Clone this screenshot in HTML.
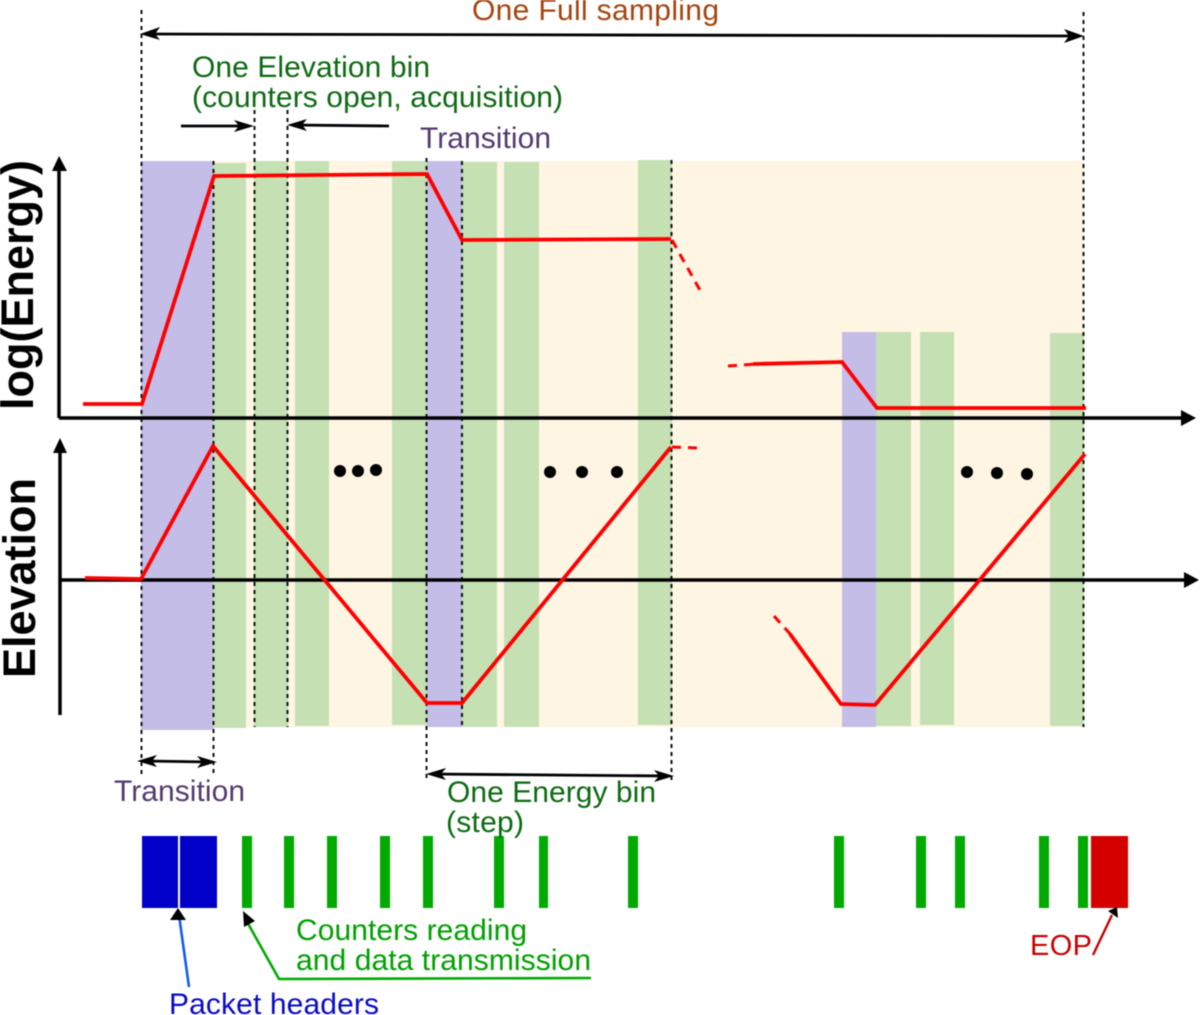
<!DOCTYPE html>
<html>
<head>
<meta charset="utf-8">
<style>
html,body{margin:0;padding:0;background:#fff;width:1200px;height:1015px;overflow:hidden}
svg{display:block;filter:blur(0.4px)}
text{font-family:"Liberation Sans",sans-serif}
</style>
</head>
<body>
<svg width="1200" height="1015" viewBox="0 0 1200 1015" xmlns="http://www.w3.org/2000/svg">
<!-- background bands -->
<rect x="141" y="161" width="943" height="566" fill="#fef5e3"/>
<g fill="#c3bde8">
<rect x="141" y="161" width="72" height="569"/>
<rect x="427" y="161" width="35" height="566"/>
<rect x="842" y="332" width="34" height="395"/>
</g>
<g fill="#c5e0b3">
<rect x="213" y="163" width="33" height="565"/>
<rect x="254" y="161" width="34" height="566"/>
<rect x="295" y="161" width="34" height="565"/>
<rect x="392" y="161" width="35" height="564"/>
<rect x="462" y="162" width="35" height="565"/>
<rect x="504" y="162" width="35" height="565"/>
<rect x="638" y="160" width="34" height="565"/>
<rect x="876" y="332" width="35" height="394"/>
<rect x="920" y="332" width="34" height="393"/>
<rect x="1050" y="333" width="34" height="393"/>
</g>
<!-- dotted guides -->
<g stroke="#111" stroke-width="2" stroke-dasharray="4 4" fill="none">
<line x1="141.500" y1="10" x2="141.500" y2="778"/>
<line x1="213.500" y1="161" x2="213.500" y2="776"/>
<line x1="254.500" y1="110" x2="254.500" y2="727"/>
<line x1="287.500" y1="110" x2="287.500" y2="727"/>
<line x1="426.500" y1="158" x2="426.500" y2="781"/>
<line x1="462" y1="161" x2="462" y2="727"/>
<line x1="671.500" y1="160" x2="671.500" y2="781"/>
<line x1="1083.500" y1="12" x2="1083.500" y2="727"/>
</g>
<!-- axes -->
<g stroke="#000" stroke-width="3.500" fill="none">
<line x1="59" y1="418" x2="1184" y2="418"/>
<line x1="59" y1="418" x2="59" y2="168"/>
<line x1="59" y1="580" x2="1186" y2="580"/>
<line x1="60" y1="715" x2="60" y2="450"/>
</g>
<g fill="#000">
<polygon points="1196,418 1181,410 1181,426"/>
<polygon points="1199,580 1184,572 1184,588"/>
<polygon points="59,156 52,171 67,171"/>
<polygon points="60,438 53,453 67,453"/>
</g>
<!-- red curves -->
<g stroke="#f00" stroke-width="3.800" fill="none" stroke-linejoin="miter">
<polyline points="83,404 142,404 214,176 427,174 462,240 671,239"/>
<polyline points="753,364 842,362 877,408 1086,408"/>
<polyline points="85,578 141,579 213,446 427,703 462,703 671,447"/>
<polyline points="790,634 841,704 875,705 1085,454"/>
</g>
<g stroke="#f00" stroke-width="3" fill="none" stroke-dasharray="9 7">
<line x1="672" y1="240" x2="701" y2="292"/>
<line x1="728" y1="366" x2="756" y2="364"/>
<line x1="672" y1="447" x2="698" y2="448"/>
<line x1="774" y1="616" x2="792" y2="636"/>
</g>
<!-- dots -->
<g fill="#000">
<circle cx="340" cy="471" r="6"/><circle cx="358" cy="471" r="6"/><circle cx="376" cy="470" r="6"/>
<circle cx="550" cy="472" r="6"/><circle cx="582" cy="472" r="6"/><circle cx="617" cy="472" r="6"/>
<circle cx="967" cy="472" r="6"/><circle cx="997" cy="473" r="6"/><circle cx="1027" cy="474" r="6"/>
</g>
<!-- dimension arrows -->
<g stroke="#000" stroke-width="2.800" fill="none">
<line x1="146" y1="34" x2="1078" y2="36"/>
<line x1="181" y1="126" x2="248" y2="126"/>
<line x1="293" y1="125" x2="389" y2="126"/>
<line x1="146" y1="761" x2="210" y2="762"/>
<line x1="432" y1="774" x2="668" y2="776"/>
</g>
<g fill="#000">
<polygon points="140,34 160,27 155,34 160,40"/>
<polygon points="1084,36 1064,29 1069,36 1064,43"/>
<polygon points="254,126 234,120 239,126 234,132"/>
<polygon points="287,125 307,119 302,125 307,131"/>
<polygon points="137,761 157,755 152,761 157,767"/>
<polygon points="217,762 197,756 202,762 197,768"/>
<polygon points="426,774 446,768 441,774 446,780"/>
<polygon points="674,776 654,770 659,776 654,782"/>
</g>
<!-- bottom bars -->
<g fill="#0000c8">
<rect x="142" y="836" width="36" height="72"/>
<rect x="180" y="836" width="37" height="72"/>
</g>
<g fill="#00aa00">
<rect x="242" y="836" width="10" height="72"/>
<rect x="284" y="836" width="10" height="72"/>
<rect x="327" y="836" width="10" height="72"/>
<rect x="380" y="836" width="10" height="72"/>
<rect x="423" y="836" width="10" height="72"/>
<rect x="494" y="836" width="10" height="72"/>
<rect x="539" y="836" width="9" height="72"/>
<rect x="628" y="836" width="10" height="72"/>
<rect x="834" y="836" width="10" height="72"/>
<rect x="916" y="836" width="10" height="72"/>
<rect x="955" y="836" width="10" height="72"/>
<rect x="1039" y="836" width="10" height="72"/>
<rect x="1078" y="836" width="10" height="72"/>
</g>
<rect x="1091" y="836" width="37" height="72" fill="#d40000"/>
<!-- pointer lines -->
<line x1="189" y1="987" x2="179" y2="915" stroke="#0f5bf0" stroke-width="2.600"/>
<polygon points="178,908 170,920 186,920" fill="#000"/>
<polyline points="591,978 279,979 246,920" stroke="#00aa00" stroke-width="2.600" fill="none"/>
<polygon points="243,911 255,921 244,927" fill="#000"/>
<line x1="1093" y1="955" x2="1112" y2="915" stroke="#c80000" stroke-width="2.400"/>
<polygon points="1117,907 1108,911 1118,918" fill="#000"/>
<!-- labels -->
<text x="472" y="20" font-size="30" fill="#a5440f" textLength="247" lengthAdjust="spacing">One Full sampling</text>
<text x="192" y="77" font-size="30" fill="#0d6a12" textLength="238" lengthAdjust="spacing">One Elevation bin</text>
<text x="192" y="107" font-size="30" fill="#0d6a12" textLength="371" lengthAdjust="spacing">(counters open, acquisition)</text>
<text x="420" y="148" font-size="30" fill="#523a6e" textLength="131" lengthAdjust="spacing">Transition</text>
<text x="114" y="801" font-size="30" fill="#523a6e" textLength="131" lengthAdjust="spacing">Transition</text>
<text x="447" y="802" font-size="30" fill="#0d6a12" textLength="209" lengthAdjust="spacing">One Energy bin</text>
<text x="446" y="832" font-size="30" fill="#0d6a12" textLength="78" lengthAdjust="spacing">(step)</text>
<text x="296" y="940" font-size="30" fill="#00a000" textLength="231" lengthAdjust="spacing">Counters reading</text>
<text x="296" y="970" font-size="30" fill="#00a000" textLength="295" lengthAdjust="spacing">and data transmission</text>
<text x="169" y="1014" font-size="30" fill="#0a0ac8" textLength="210" lengthAdjust="spacing">Packet headers</text>
<text x="1030" y="955" font-size="29" fill="#c80000" textLength="62" lengthAdjust="spacing">EOP</text>
<text transform="translate(33,410) rotate(-90)" font-size="45" font-weight="bold" fill="#000" textLength="250" lengthAdjust="spacing">log(Energy)</text>
<text transform="translate(35,678) rotate(-90)" font-size="45" font-weight="bold" fill="#000" textLength="200" lengthAdjust="spacing">Elevation</text>
</svg>
</body>
</html>
